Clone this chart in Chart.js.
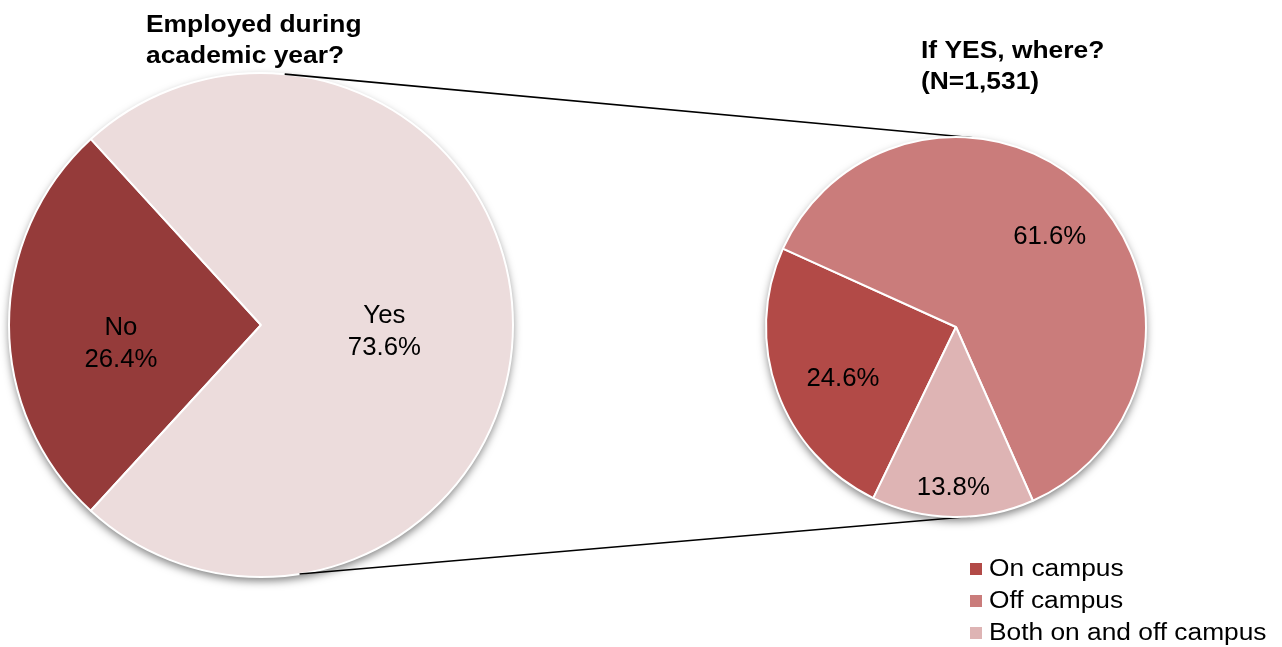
<!DOCTYPE html>
<html>
<head>
<meta charset="utf-8">
<title>Employment during academic year</title>
<script src="https://cdn.jsdelivr.net/npm/chart.js@4.4.1/dist/chart.umd.min.js"></script>
<style>
  html, body { margin: 0; padding: 0; background: #fff; }
  #wrap { position: relative; width: 1282px; height: 647px; }
  #wrap canvas { position: absolute; left: 0; top: 0; }
</style>
</head>
<body>
<div id="wrap">
  <canvas id="mainPie" width="1282" height="647"></canvas>
  <canvas id="wherePie" width="1282" height="647"></canvas>
</div>
<script>
// data
const mainTitle = ['Employed during', 'academic year?'];
const mainLabels = ['No', 'Yes'];
const mainValues = [26.4, 73.6];

const whereTitle = ['If YES, where?', '(N=1,531)'];
const whereLabels = ['On campus', 'Off campus', 'Both on and off campus'];
const whereValues = [24.6, 61.6, 13.8];

// styling
const mainColors = ['#953b3a', '#ecdcdc'];
const whereColors = ['#b24a47', '#ca7c7b', '#deb4b4'];
// label placement: fraction of radius, angle nudge in degrees
const mainLabelPos = [[0.56, -7], [0.49, 2.4]];
const whereLabelPos = [[0.65, -3.8], [0.69, 0.4], [0.84, 0]];
const FONT = '"Liberation Sans", Arial, sans-serif';

function wideText(ctx, text, x, y, align, sx) {
  ctx.save();
  ctx.translate(x, y);
  ctx.scale(sx, 1);
  ctx.textAlign = align;
  ctx.fillText(text, 0, 0);
  ctx.restore();
}

// soft drop shadow under the whole pie
const pieShadow = {
  id: 'pieShadow',
  beforeDatasetsDraw(chart) {
    const arc = chart.getDatasetMeta(0).data[0];
    const ctx = chart.ctx;
    ctx.save();
    ctx.shadowColor = 'rgba(0,0,0,0.5)';
    ctx.shadowBlur = 9;
    ctx.shadowOffsetY = 4;
    ctx.beginPath();
    ctx.arc(arc.x, arc.y, arc.outerRadius, 0, Math.PI * 2);
    ctx.fillStyle = '#fff';
    ctx.fill();
    ctx.restore();
  }
};

const sliceLabels = {
  id: 'sliceLabels',
  afterDatasetsDraw(chart, args, opts) {
    const ctx = chart.ctx;
    const vals = chart.data.datasets[0].data;
    ctx.save();
    ctx.fillStyle = '#000';
    ctx.font = '25px ' + FONT;
    ctx.textBaseline = 'middle';
    chart.getDatasetMeta(0).data.forEach((arc, i) => {
      const [frac, nudge] = opts.pos[i];
      const a = (arc.startAngle + arc.endAngle) / 2 + nudge * Math.PI / 180;
      const r = arc.outerRadius * frac;
      const cx = arc.x + Math.cos(a) * r;
      const cy = arc.y + Math.sin(a) * r + 2;
      const lines = opts.withName
        ? [chart.data.labels[i], vals[i].toFixed(1) + '%']
        : [vals[i].toFixed(1) + '%'];
      const lh = 32;
      lines.forEach((t, k) => {
        wideText(ctx, t, cx, cy + (k - (lines.length - 1) / 2) * lh, 'center', 1.03);
      });
    });
    ctx.restore();
  }
};

const titleText = {
  id: 'titleText',
  afterDraw(chart, args, opts) {
    const ctx = chart.ctx;
    ctx.save();
    ctx.fillStyle = '#000';
    ctx.font = 'bold 24px ' + FONT;
    ctx.textBaseline = 'alphabetic';
    opts.lines.forEach((t, k) => {
      wideText(ctx, t, opts.x, opts.y + k * 31, 'left', 1.1);
    });
    ctx.restore();
  }
};

const mainChart = new Chart(document.getElementById('mainPie'), {
  type: 'pie',
  data: {
    labels: mainLabels,
    datasets: [{
      data: mainValues,
      backgroundColor: mainColors,
      borderColor: '#fff',
      borderWidth: 2
    }]
  },
  options: {
    responsive: false,
    animation: false,
    events: [],
    rotation: 222.5,
    layout: { padding: { left: 8, top: 72, right: 768, bottom: 69 } },
    plugins: {
      legend: { display: false },
      tooltip: { enabled: false },
      sliceLabels: { pos: mainLabelPos, withName: true },
      titleText: { lines: mainTitle, x: 146, y: 32 }
    }
  },
  plugins: [pieShadow, sliceLabels, titleText]
});

// connector lines from the first pie to the breakdown pie
const connectors = {
  id: 'connectors',
  beforeDatasetsDraw(chart) {
    const a = mainChart.getDatasetMeta(0).data[0];
    const b = chart.getDatasetMeta(0).data[0];
    const ctx = chart.ctx;
    const pt = (arc, deg) => [
      arc.x + Math.cos(deg * Math.PI / 180) * arc.outerRadius,
      arc.y + Math.sin(deg * Math.PI / 180) * arc.outerRadius
    ];
    ctx.save();
    ctx.strokeStyle = '#000';
    ctx.lineWidth = 1.6;
    [[-84.6, -84.9], [81.2, 85.8]].forEach(([da, db]) => {
      const p = pt(a, da), q = pt(b, db);
      ctx.beginPath();
      ctx.moveTo(p[0], p[1]);
      ctx.lineTo(q[0], q[1]);
      ctx.stroke();
    });
    ctx.restore();
  }
};

const legendBox = {
  id: 'legendBox',
  afterDraw(chart) {
    const ctx = chart.ctx;
    const ds = chart.data.datasets[0];
    ctx.save();
    ctx.font = '23.5px ' + FONT;
    ctx.textBaseline = 'alphabetic';
    chart.data.labels.forEach((lab, i) => {
      const base = 576 + i * 32;
      ctx.fillStyle = ds.backgroundColor[i];
      ctx.fillRect(970, base - 13, 12, 12);
      ctx.fillStyle = '#000';
      wideText(ctx, lab, 989, base, 'left', 1.12);
    });
    ctx.restore();
  }
};

new Chart(document.getElementById('wherePie'), {
  type: 'pie',
  data: {
    labels: whereLabels,
    datasets: [{
      data: whereValues,
      backgroundColor: whereColors,
      borderColor: '#fff',
      borderWidth: 2
    }]
  },
  options: {
    responsive: false,
    animation: false,
    events: [],
    rotation: 205.8,
    layout: { padding: { left: 765, top: 136, right: 135, bottom: 129 } },
    plugins: {
      legend: { display: false },
      tooltip: { enabled: false },
      sliceLabels: { pos: whereLabelPos, withName: false },
      titleText: { lines: whereTitle, x: 921, y: 58 }
    }
  },
  plugins: [connectors, pieShadow, sliceLabels, titleText, legendBox]
});
</script>
</body>
</html>
